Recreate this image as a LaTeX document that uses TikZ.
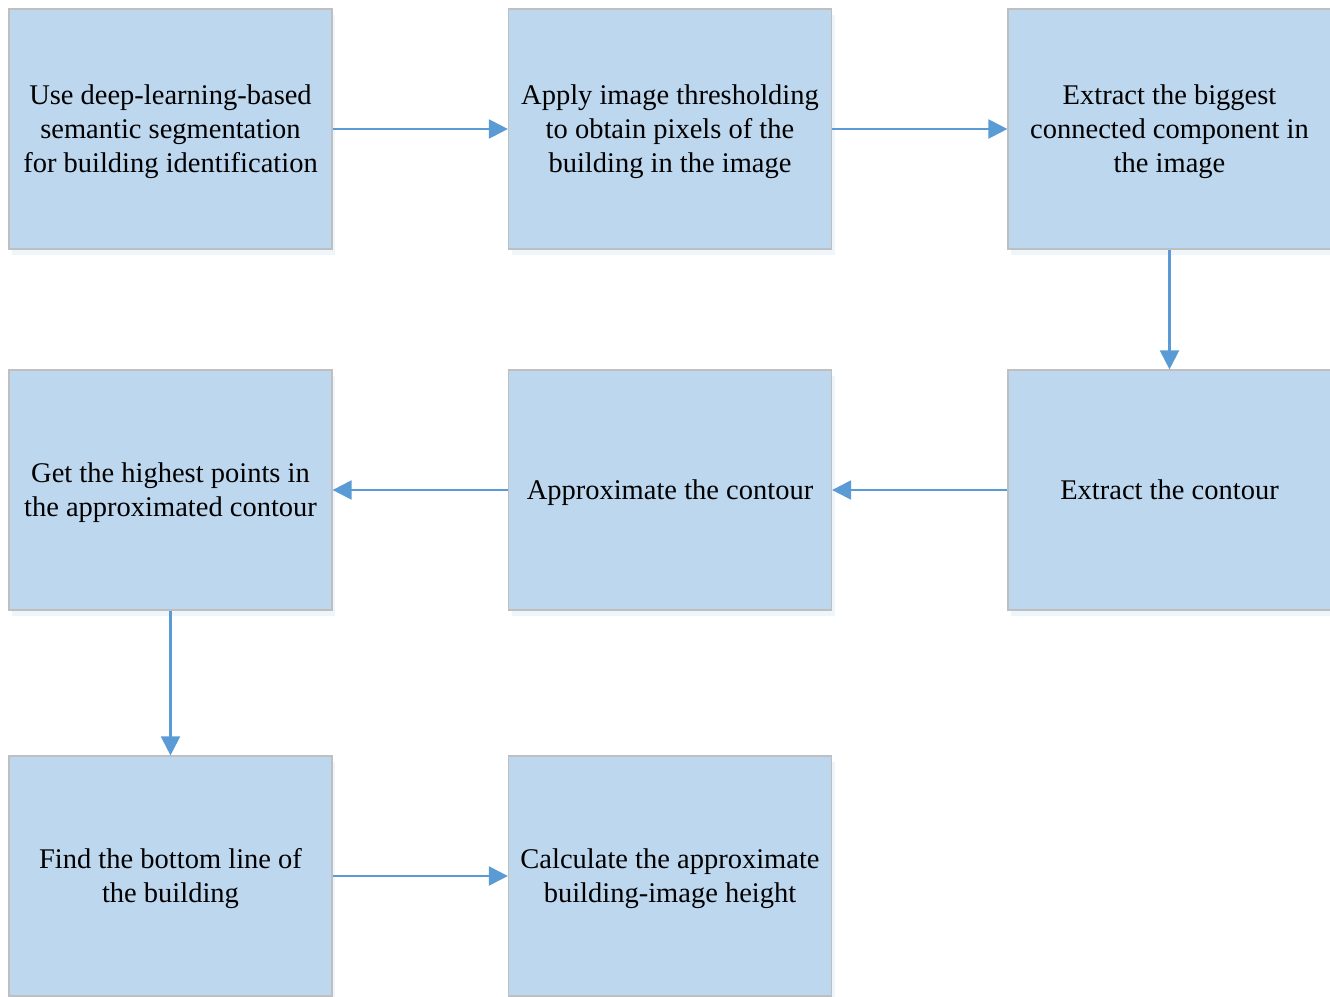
\documentclass[tikz,border=0pt]{standalone}
\usepackage{fontspec}
\setmainfont{Liberation Serif}
\usetikzlibrary{arrows.meta,shadows}
\definecolor{boxfill}{HTML}{BDD7EE}
\definecolor{boxline}{HTML}{BFBFBF}
\definecolor{arrowc}{HTML}{5B9BD5}
\newcommand\boxtext[1]{\raisebox{0pt}[\dimexpr\height+6pt\relax]{\begin{tabular}{@{}c@{}}#1\end{tabular}}}
\begin{document}
\begin{tikzpicture}[x=1pt,y=-1pt,
  stepbox/.style={draw=boxline, line width=1.2pt, fill=boxfill, minimum width=323pt, minimum height=240pt,
    inner sep=0pt, font=\fontsize{28.5}{34}\selectfont,
    drop shadow={shadow xshift=3pt, shadow yshift=-6pt, opacity=0.10, fill=arrowc}},
  flow/.style={draw=arrowc, line width=2.2pt, -{Triangle[length=19pt,width=19pt]}}]
\useasboundingbox (0,0) rectangle (1330,996);
\clip (0,0) rectangle (1330,996);
\node[stepbox] (a) at (170.5,129) {\boxtext{Use deep-learning-based\\semantic segmentation\\for building identification}};
\node[stepbox] (b) at (670,129) {\boxtext{Apply image thresholding\\to obtain pixels of the\\building in the image}};
\node[stepbox] (c) at (1169.5,129) {\boxtext{Extract the biggest\\connected component in\\the image}};
\node[stepbox] (f) at (1169.5,490) {\boxtext{Extract the contour}};
\node[stepbox] (e) at (670,490) {\boxtext{Approximate the contour}};
\node[stepbox] (d) at (170.5,490) {\boxtext{Get the highest points in\\the approximated contour}};
\node[stepbox] (g) at (170.5,876) {\boxtext{Find the bottom line of\\the building}};
\node[stepbox] (h) at (670,876) {\boxtext{Calculate the approximate\\building-image height}};
\draw[flow] (a) -- (b);
\draw[flow] (b) -- (c);
\draw[flow] (c) -- (f);
\draw[flow] (f) -- (e);
\draw[flow] (e) -- (d);
\draw[flow] (d) -- (g);
\draw[flow] (g) -- (h);
\end{tikzpicture}
\end{document}
